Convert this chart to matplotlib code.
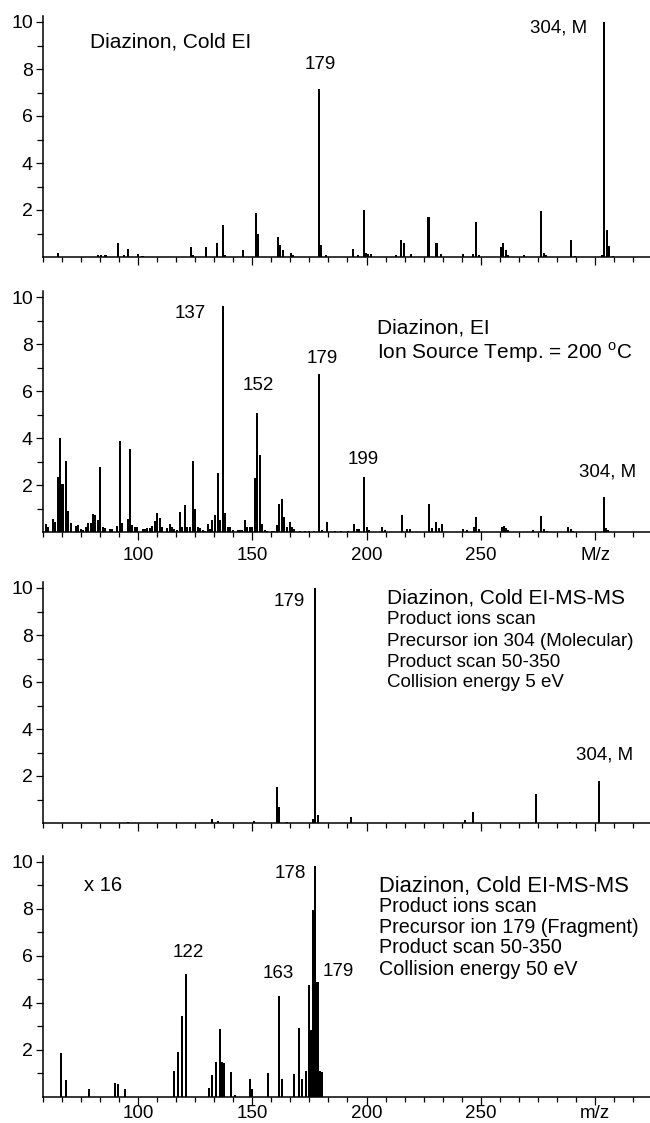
import matplotlib
matplotlib.use("Agg")
import matplotlib.pyplot as plt
from matplotlib.ticker import MultipleLocator, FuncFormatter

plt.rcParams['font.family'] = ['Liberation Sans', 'DejaVu Sans']

# panel 1: Cold EI
p1_mz = [65, 82.5, 83.7, 85.8, 91.3, 93.8, 95.7, 100.2, 102, 123.1,
         124, 129.8, 134.5, 137, 138, 145.9, 151.8, 152.7, 161.4, 162.3,
         163.3, 167, 168, 179, 180.2, 182.3, 194.1, 196.4, 198.9, 199.8,
         200.7, 201.9, 212.9, 215, 216.2, 219.5, 227.1, 230.6, 232.7, 242.4,
         246.6, 248, 249.2, 258.8, 259.8, 260.9, 261.9, 268.9, 276.5, 277.6,
         278.6, 289.6, 291, 302.8, 304, 305, 306, 308]
p1_int = [0.17, 0.1, 0.08, 0.07, 0.6, 0.07, 0.34, 0.14, 0.06, 0.43,
          0.07, 0.41, 0.58, 1.38, 0.07, 0.28, 1.89, 0.98, 0.85, 0.5,
          0.28, 0.15, 0.07, 7.13, 0.5, 0.07, 0.33, 0.1, 1.99, 0.17,
          0.11, 0.11, 0.07, 0.71, 0.6, 0.14, 1.7, 0.6, 0.11, 0.14,
          0.14, 1.49, 0.07, 0.43, 0.6, 0.28, 0.07, 0.07, 1.94, 0.18,
          0.07, 0.71, 0.05, 0.1, 10.0, 1.13, 0.45, 0.05]

# panel 2: standard EI, 200 C
p2_mz = [59.6, 60.8, 62.8, 63.9, 65.0, 66.05, 67.0, 68.4, 69.4, 70.6,
         72.8, 73.9, 74.9, 76.1, 77.1, 78.1, 79.3, 80.3, 81.4, 82.4,
         83.5, 84.6, 85.5, 87.8, 88.8, 91.0, 92.15, 93.2, 95.5, 96.5,
         97.5, 98.7, 99.7, 102.1, 103.1, 104.1, 105.3, 106.3, 107.3, 108.3,
         109.5, 110.5, 112.9, 113.9, 114.9, 115.9, 117.0, 118.4, 119.4, 120.6,
         121.6, 122.8, 123.9, 125.0, 126.1, 127.1, 128.3, 129.3, 130.5, 131.5,
         132.5, 133.6, 134.9, 135.8, 137.1, 138.2, 139.3, 140.4, 141.4, 143.8,
         144.6, 145.7, 146.7, 147.9, 148.9, 150.0, 151.2, 152.2, 153.3, 154.4,
         155.4, 156.6, 158.5, 159.7, 160.7, 161.9, 163.0, 163.9, 165.1, 166.4,
         167.4, 168.4, 171, 173, 175, 177, 179.4, 180.5, 182.8, 186,
         189, 192, 194.7, 195.7, 196.8, 199.0, 200.0, 201.2, 206.8, 208.2,
         215.5, 217.5, 219.0, 227.5, 228.6, 230.5, 231.5, 233.0, 242.3, 243.8,
         247.0, 248.0, 249.0, 259.1, 260.0, 261.0, 262.0, 273.0, 276.5, 277.6,
         278.8, 288.3, 289.3, 290.5, 303.7, 304.7, 305.8]
p2_int = [0.34, 0.21, 0.55, 0.43, 2.37, 4.01, 2.06, 3.02, 0.91, 0.38,
          0.28, 0.31, 0.16, 0.1, 0.24, 0.38, 0.38, 0.77, 0.72, 0.52,
          2.79, 0.24, 0.18, 0.13, 0.16, 0.28, 3.9, 0.4, 0.55, 3.53,
          0.31, 0.24, 0.24, 0.16, 0.13, 0.2, 0.2, 0.27, 0.48, 0.81,
          0.61, 0.24, 0.2, 0.34, 0.24, 0.13, 0.1, 0.85, 0.21, 1.16,
          0.24, 0.24, 3.04, 0.99, 0.21, 0.18, 0.1, 0.07, 0.34, 0.13,
          0.52, 0.74, 2.54, 0.52, 9.63, 0.84, 0.21, 0.21, 0.1, 0.1,
          0.1, 0.1, 0.52, 0.21, 0.24, 0.24, 2.33, 5.06, 3.29, 0.34,
          0.1, 0.07, 0.07, 0.07, 0.31, 1.19, 1.42, 0.64, 0.24, 0.43,
          0.24, 0.13, 0.05, 0.05, 0.06, 0.05, 6.72, 0.1, 0.43, 0.06,
          0.06, 0.05, 0.34, 0.13, 0.13, 2.34, 0.21, 0.1, 0.21, 0.08,
          0.72, 0.13, 0.12, 1.22, 0.17, 0.43, 0.2, 0.34, 0.13, 0.08,
          0.24, 0.65, 0.13, 0.21, 0.27, 0.2, 0.08, 0.08, 0.68, 0.13,
          0.07, 0.21, 0.13, 0.07, 1.49, 0.17, 0.1]

# panel 3: MS-MS, precursor 304, 5 eV
p3_mz = [95.6, 132.2, 134.9, 150.8, 160.9, 161.8, 165.2, 176.4, 177.6, 178.6,
         193.0, 243.1, 246.4, 274.1, 289.0, 301.7]
p3_int = [0.05, 0.15, 0.08, 0.08, 1.52, 0.68, 0.05, 0.17, 10.0, 0.35,
          0.26, 0.14, 0.45, 1.23, 0.03, 1.8]

# panel 4: MS-MS, precursor 179, 50 eV (x 16)
p4_mz = [66.5, 68.5, 78.4, 90.0, 91.1, 94.2, 115.9, 117.7, 119.3, 120.9,
         131.0, 132.5, 134.3, 135.9, 136.8, 137.6, 140.7, 142.3, 148.9, 149.8,
         156.9, 161.7, 162.9, 168.3, 170.3, 171.9, 173.5, 174.7, 175.6, 176.4,
         177.5, 178.3, 178.9, 179.6, 180.4]
p4_int = [1.87, 0.71, 0.31, 0.57, 0.54, 0.31, 1.11, 1.91, 3.43, 5.22,
          0.37, 0.92, 1.48, 2.88, 1.49, 1.45, 1.05, 0.07, 0.77, 0.31,
          0.99, 4.28, 0.74, 0.96, 2.91, 0.77, 1.11, 4.75, 2.84, 7.94,
          9.83, 4.89, 4.89, 1.09, 1.04]

W, H = 650, 1123
fig = plt.figure(figsize=(W / 100, H / 100), dpi=100)

x_left = 42.7
xmin, xmax = 58.33, 324.0
ytop = 10.25
px_per_unit = 23.5
baselines = [257.0, 532.3, 823.0, 1096.7]  # pixel row of zero line


def make_axes(y0, unit_label, xpad=2.5):
    h = ytop * px_per_unit
    ax = fig.add_axes([x_left / W, 1 - y0 / H, (W - x_left) / W, h / H])
    ax.set_xlim(xmin, xmax)
    ax.set_ylim(0, ytop)
    for s in ['top', 'right']:
        ax.spines[s].set_visible(False)
    for s in ['left', 'bottom']:
        ax.spines[s].set_linewidth(1.1)
    ax.xaxis.set_major_locator(MultipleLocator(50))
    ax.xaxis.set_minor_locator(MultipleLocator(50 / 6))
    ax.set_yticks([2, 4, 6, 8, 10])
    ax.set_yticks([1, 3, 5, 7, 9], minor=True)
    ax.tick_params(axis='both', which='both', direction='out', width=0.9,
                   colors='black')
    ax.tick_params(axis='y', labelsize=14)
    ax.tick_params(axis='x', labelsize=13.5)
    ax.tick_params(axis='x', which='major', length=5.5, pad=xpad)
    ax.tick_params(axis='x', which='minor', length=3.5)
    ax.tick_params(axis='y', which='major', length=5, pad=2)
    ax.tick_params(axis='y', which='minor', length=4)
    if unit_label is None:
        ax.tick_params(axis='x', labelbottom=False)
    else:
        ax.xaxis.set_major_formatter(FuncFormatter(
            lambda v, p: unit_label if abs(v - 300) < 1 else '%d' % v))
    return ax


def draw(ax, mz, inten):
    ax.bar(mz, inten, width=0.9, color='black', linewidth=0)


ax1 = make_axes(baselines[0], None)
draw(ax1, p1_mz, p1_int)
ax1.text(79.0, 9.15, 'Diazinon, Cold EI', fontsize=15, va='center')
ax1.text(179.6, 8.21, '179', fontsize=13.5, ha='center', va='center')
ax1.text(284.0, 9.74, '304, M', fontsize=13.5, ha='center', va='center')

ax2 = make_axes(baselines[1], 'M/z', xpad=5)
draw(ax2, p2_mz, p2_int)
ax2.text(122.9, 9.29, '137', fontsize=13.5, ha='center', va='center')
ax2.text(152.8, 6.23, '152', fontsize=13.5, ha='center', va='center')
ax2.text(180.7, 7.40, '179', fontsize=13.5, ha='center', va='center')
ax2.text(198.4, 3.11, '199', fontsize=13.5, ha='center', va='center')
ax2.text(305.6, 2.58, '304, M', fontsize=13.5, ha='center', va='center')
ax2.text(204.7, 8.68, 'Diazinon, EI', fontsize=15, va='center')
ax2.text(204.7, 7.64, r'Ion Source Temp. = 200 $^\mathregular{o}$C',
         fontsize=15, va='center')

ax3 = make_axes(baselines[2], None)
draw(ax3, p3_mz, p3_int)
ax3.text(166.1, 9.42, '179', fontsize=13.5, ha='center', va='center')
ax3.text(304.3, 2.89, '304, M', fontsize=13.5, ha='center', va='center')
ax3.text(209.0, 9.57, 'Diazinon, Cold EI-MS-MS', fontsize=15, va='center')
for yy, s in zip([8.64, 7.74, 6.85, 5.96],
                 ['Product ions scan', 'Precursor ion 304 (Molecular)',
                  'Product scan 50-350', 'Collision energy 5 eV']):
    ax3.text(209.0, yy, s, fontsize=13.5, va='center')

ax4 = make_axes(baselines[3], 'm/z', xpad=0.8)
draw(ax4, p4_mz, p4_int)
ax4.text(76.4, 8.97, 'x 16', fontsize=14.5, va='center')
ax4.text(122.0, 6.13, '122', fontsize=13.5, ha='center', va='center')
ax4.text(161.3, 5.26, '163', fontsize=13.5, ha='center', va='center')
ax4.text(166.5, 9.48, '178', fontsize=13.5, ha='center', va='center')
ax4.text(187.5, 5.31, '179', fontsize=13.5, ha='center', va='center')
ax4.text(205.6, 8.95, 'Diazinon, Cold EI-MS-MS', fontsize=15.8, va='center')
for yy, s in zip([8.11, 7.22, 6.33, 5.43],
                 ['Product ions scan', 'Precursor ion 179 (Fragment)',
                  'Product scan 50-350', 'Collision energy 50 eV']):
    ax4.text(205.6, yy, s, fontsize=14.2, va='center')

fig.savefig('out.png', dpi=100)
